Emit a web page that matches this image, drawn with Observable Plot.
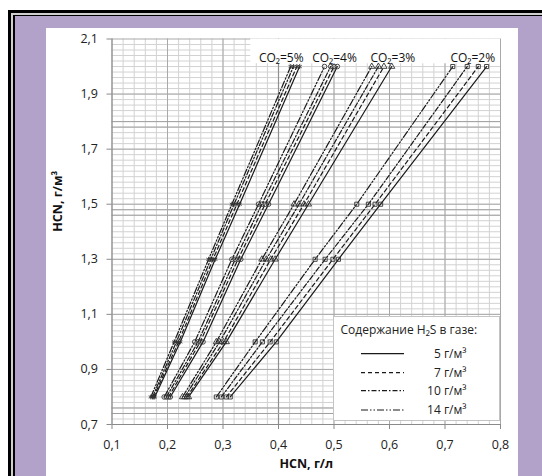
<!DOCTYPE html>
<html>
<head>
<meta charset="utf-8">
<script src="https://cdn.jsdelivr.net/npm/d3@7"></script>
<script src="https://cdn.jsdelivr.net/npm/@observablehq/plot@0.6"></script>
<style>
  html, body { margin: 0; padding: 0; }
  body { width: 542px; height: 476px; overflow: hidden; position: relative; background: #fff; font-family: "Open Sans", Roboto, sans-serif; }
  .abs { position: absolute; }
  #f1 { left: 8px; top: 10px; right: 0; bottom: 0; background: #000; }
  #f2 { left: 11px; top: 13px; right: 0; bottom: 0; background: #cfcfcf; }
  #f3 { left: 13px; top: 15px; right: 0; bottom: 0; background: #000; }
  #f4 { left: 15px; top: 16px; right: 0; bottom: 0; background: #b2a1c8; }
  #panel { left: 46px; top: 28px; width: 472px; height: 448px; background: #fff; }
  #legend { left: 333px; top: 316px; }
</style>
</head>
<body>
<div id="f1" class="abs"></div>
<div id="f2" class="abs"></div>
<div id="f3" class="abs"></div>
<div id="f4" class="abs"></div>
<div id="panel" class="abs"></div>
<div id="legend" class="abs"></div>
<script>
// ---- data ----
const yLevels = [0.8, 1.0, 1.3, 1.5, 2.0];           // HCN, г/м³
const co2Groups = ["5%", "4%", "3%", "2%"];
const h2sLevels = [5, 7, 10, 14];                     // г/м³
const h2sLabels = ["5 г/м³", "7 г/м³", "10 г/м³", "14 г/м³"];
// HCN, г/л for each H2S level (rows: 5, 7, 10, 14) at yLevels
const hcnCO2_5 = [
  [0.177, 0.223, 0.286, 0.330, 0.438],
  [0.175, 0.220, 0.282, 0.325, 0.433],
  [0.173, 0.216, 0.278, 0.320, 0.427],
  [0.170, 0.212, 0.274, 0.316, 0.422]
];
const hcnCO2_4 = [
  [0.205, 0.264, 0.332, 0.382, 0.506],
  [0.202, 0.259, 0.327, 0.376, 0.500],
  [0.198, 0.255, 0.322, 0.370, 0.494],
  [0.194, 0.249, 0.316, 0.364, 0.483]
];
const hcnCO2_3 = [
  [0.238, 0.306, 0.394, 0.454, 0.604],
  [0.235, 0.301, 0.386, 0.446, 0.590],
  [0.231, 0.294, 0.378, 0.437, 0.580],
  [0.227, 0.288, 0.370, 0.428, 0.568]
];
const hcnCO2_2 = [
  [0.313, 0.396, 0.508, 0.584, 0.775],
  [0.306, 0.385, 0.498, 0.574, 0.760],
  [0.297, 0.371, 0.484, 0.562, 0.740],
  [0.288, 0.358, 0.466, 0.541, 0.714]
];
const groupLabels = ["CO₂=5%", "CO₂=4%", "CO₂=3%", "CO₂=2%"];
const groupLabelX = [0.405, 0.501, 0.606, 0.750];
const groupLabelY = 2.03;
const xTicks = [0.1, 0.2, 0.3, 0.4, 0.5, 0.6, 0.7, 0.8];
const yTicks = [0.7, 0.9, 1.1, 1.3, 1.5, 1.7, 1.9, 2.1];
// darker (doubled) grid lines visible in the original scan
const xDark = [0.4];
const yDark = [1.78, 1.80, 1.46, 1.48, 0.74, 0.76];

// ---- build table ----
const series = [hcnCO2_5, hcnCO2_4, hcnCO2_3, hcnCO2_2];
const rows = [];
series.forEach((grp, gi) => grp.forEach((vals, hi) => vals.forEach((x, k) => {
  rows.push({co2: co2Groups[gi], h2s: h2sLevels[hi], x, y: yLevels[k]});
})));
const labels = groupLabels.map((t, i) => ({t, x: groupLabelX[i], y: groupLabelY}));

const dashes = ["none", "4,3", "5,2,1.5,2", "7,2,1.5,2,1.5,2"];
const fmt = d => d.toFixed(1).replace(".", ",");
const xMinor = d3.range(0.12, 0.8, 0.02).map(v => +v.toFixed(2));
const yMinor = d3.range(0.72, 2.1, 0.02).map(v => +v.toFixed(2));
const yMajor = d3.range(0.7, 2.11, 0.2).map(v => +v.toFixed(2));
const gridMinor = "#d2d2d2", gridMajor = "#a9a9a9";

const chart = Plot.plot({
  width: 472,
  height: 448,
  marginLeft: 65.5,
  marginRight: 18,
  marginTop: 10.5,
  marginBottom: 52,
  style: {fontFamily: "'Open Sans', Roboto, sans-serif", fontSize: "12.5px", color: "#222", background: "white"},
  x: {domain: [0.1, 0.8]},
  y: {domain: [0.7, 2.1]},
  symbol: {domain: co2Groups, range: ["asterisk", "circle", "triangle", "square"]},
  marks: [
    Plot.ruleX(xMinor, {stroke: gridMinor, strokeWidth: 1}),
    Plot.ruleY(yMinor, {stroke: gridMinor, strokeWidth: 1}),
    Plot.ruleX(xTicks, {stroke: gridMajor, strokeWidth: 1}),
    Plot.ruleY(yMajor, {stroke: gridMajor, strokeWidth: 1}),
    Plot.ruleX(xDark, {stroke: "#8f8f8f", strokeWidth: 1.2}),
    Plot.ruleY(yDark, {stroke: "#a0a0a0", strokeWidth: 1}),
    Plot.rect([labels], {x1: 0.35, x2: 0.8, y1: 2.01, y2: 2.1, fill: "white"}),
    Plot.ruleX([0.1], {stroke: "#8a8a8a"}),
    Plot.ruleY([0.7], {stroke: "#8a8a8a"}),
    Plot.axisX({ticks: xTicks, tickFormat: fmt, tickSize: 5, tickPadding: 11, label: null, stroke: "#8a8a8a"}),
    Plot.axisY({ticks: yTicks, tickFormat: fmt, tickSize: 5, tickPadding: 9, label: null, stroke: "#8a8a8a"}),
    ...h2sLevels.map((h, i) => Plot.line(rows.filter(d => d.h2s === h), {
      x: "x", y: "y", z: "co2", stroke: "#1a1a1a", strokeWidth: 1.2, strokeDasharray: dashes[i]
    })),
    Plot.dot(rows, {x: "x", y: "y", symbol: "co2", r: 2.3, stroke: "#333", strokeWidth: 0.9, fill: "none"}),
    Plot.text(labels, {x: "x", y: "y", text: "t", fontSize: 12, fill: "#111"}),
    Plot.text(["HCN, г/л"], {frameAnchor: "bottom", dy: 43, fontWeight: "bold", fontSize: 12.5, fill: "#111"}),
    Plot.text(["HCN, г/м³"], {frameAnchor: "left", dx: -54, rotate: -90, fontWeight: "bold", fontSize: 12.5, fill: "#111"})
  ]
});
document.getElementById("panel").appendChild(chart);

// ---- legend ----
const lw = 167, lh = 105;
const lsvg = d3.select("#legend").append("svg").attr("width", lw).attr("height", lh)
  .style("font-family", "'Open Sans', Roboto, sans-serif");
lsvg.append("rect").attr("x", 0.5).attr("y", 0.5).attr("width", lw - 1).attr("height", lh - 1)
  .attr("fill", "white").attr("stroke", "#c4c4c4");
lsvg.append("text").attr("x", 7.5).attr("y", 13.5).attr("dy", "0.35em")
  .attr("font-size", 12).attr("fill", "#222").text("Содержание H₂S в газе:");
const rowY = [37.6, 56.6, 74.6, 94];
h2sLevels.forEach((h, i) => {
  lsvg.append("line").attr("x1", 28).attr("x2", 71).attr("y1", rowY[i]).attr("y2", rowY[i])
    .attr("stroke", "#1a1a1a").attr("stroke-width", 1.1).attr("stroke-dasharray", dashes[i]);
  lsvg.append("text").attr("x", 133.5).attr("y", rowY[i]).attr("dy", "0.35em").attr("text-anchor", "end")
    .attr("font-size", 12).attr("fill", "#222").text(h2sLabels[i]);
});
</script>
</body>
</html>
